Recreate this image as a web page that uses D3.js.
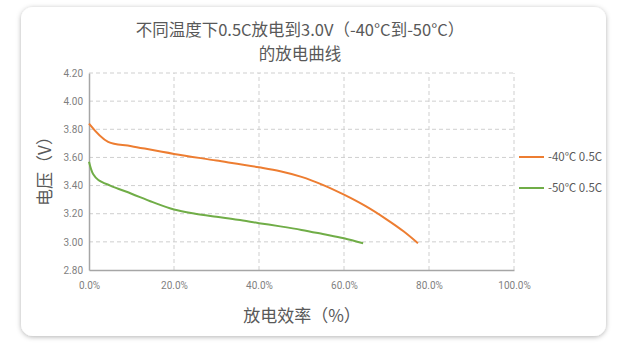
<!DOCTYPE html>
<html>
<head>
<meta charset="utf-8">
<script src="https://cdn.jsdelivr.net/npm/d3@7"></script>
<style>
  body { margin: 0; background: #fff; }
  svg { display: block; font-family: "Noto Sans CJK SC", "Noto Sans", sans-serif; }
</style>
</head>
<body>
<div id="chart"></div>
<script>
// discharge capacity (%) and voltage (V)
var capMinus40 = [0, 4.5, 10, 20, 30, 40, 45, 50, 55, 60, 65, 70, 74, 77.4]
var voltMinus40 = [3.84, 3.71, 3.68, 3.625, 3.578, 3.53, 3.502, 3.462, 3.405, 3.335, 3.255, 3.16, 3.075, 2.99]
var capMinus50 = [0, 1, 2.2, 5, 10, 15, 20, 25, 30, 35, 40, 45, 50, 55, 60, 64.5]
var voltMinus50 = [3.57, 3.48, 3.44, 3.40, 3.342, 3.282, 3.23, 3.2, 3.178, 3.157, 3.133, 3.11, 3.085, 3.056, 3.026, 2.99]

var xTicks = [0, 20, 40, 60, 80, 100]
var yTicks = [2.8, 3.0, 3.2, 3.4, 3.6, 3.8, 4.0, 4.2]
var seriesNames = ['-40℃ 0.5C', '-50℃ 0.5C']
var seriesColors = ['#ED7D31', '#70AD47']

var width = 622, height = 352
var margin = {top: 73, right: 108, bottom: 82, left: 89}

var svg = d3.select('#chart')
  .append('svg')
  .attr('width', width)
  .attr('height', height)

// card with shadow
var defs = svg.append('defs')
var f = defs.append('filter').attr('id', 'shadow')
  .attr('x', '-10%').attr('y', '-10%').attr('width', '120%').attr('height', '120%')
f.append('feDropShadow')
  .attr('dx', 0).attr('dy', 1).attr('stdDeviation', 2.5)
  .attr('flood-color', '#000').attr('flood-opacity', 0.3)

svg.append('rect')
  .attr('x', 21).attr('y', 7)
  .attr('width', 585).attr('height', 329)
  .attr('rx', 12)
  .attr('fill', '#fff')
  .attr('filter', 'url(#shadow)')

var x = d3.scaleLinear()
  .domain([0, 100])
  .range([margin.left, 514])
var y = d3.scaleLinear()
  .domain([2.8, 4.2])
  .range([height - margin.bottom, margin.top])

// grid
svg.append('g')
  .selectAll('line')
  .data(yTicks.slice(1))
  .enter().append('line')
  .attr('x1', x(0)).attr('x2', x(100))
  .attr('y1', function(d) { return y(d) })
  .attr('y2', function(d) { return y(d) })
  .attr('stroke', '#cfcfcf')
  .attr('stroke-dasharray', '4,3')
svg.append('g')
  .selectAll('line')
  .data(xTicks.slice(1))
  .enter().append('line')
  .attr('y1', y(2.8)).attr('y2', y(4.2))
  .attr('x1', function(d) { return x(d) })
  .attr('x2', function(d) { return x(d) })
  .attr('stroke', '#cfcfcf')
  .attr('stroke-dasharray', '4,3')

// axes
var xAxis = svg.append('g')
  .attr('transform', 'translate(0,' + y(2.8) + ')')
  .call(d3.axisBottom(x).tickValues(xTicks).tickSize(0).tickPadding(12)
    .tickFormat(function(d) { return d.toFixed(1) + '%' }))
var yAxis = svg.append('g')
  .attr('transform', 'translate(' + x(0) + ',0)')
  .call(d3.axisLeft(y).tickValues(yTicks).tickSize(0).tickPadding(6)
    .tickFormat(d3.format('.2f')))

;[xAxis, yAxis].forEach(function(a) {
  a.select('.domain').attr('stroke', '#a6a6a6').attr('stroke-width', 1.5)
  a.selectAll('text')
    .style('font-size', '10px')
    .attr('fill', '#7f7f7f')
    .style('font-family', 'Roboto, "Noto Sans", sans-serif')
})

// lines
var line = d3.line()
  .x(function(d) { return x(d[0]) })
  .y(function(d) { return y(d[1]) })
  .curve(d3.curveCatmullRom.alpha(0.5))

var series = [
  d3.zip(capMinus40, voltMinus40),
  d3.zip(capMinus50, voltMinus50)
]

series.forEach(function(s, i) {
  svg.append('path')
    .datum(s)
    .attr('fill', 'none')
    .attr('stroke', seriesColors[i])
    .attr('stroke-width', 2)
    .attr('d', line)
})

// legend
var legend = svg.append('g')
  .selectAll('g')
  .data(seriesNames)
  .enter().append('g')
  .attr('transform', function(d, i) { return 'translate(519,' + (157 + i * 31) + ')' })
legend.append('line')
  .attr('x1', 0).attr('x2', 25)
  .attr('stroke', function(d, i) { return seriesColors[i] })
  .attr('stroke-width', 2)
legend.append('text')
  .attr('x', 29).attr('dy', '0.35em')
  .style('font-size', '11.5px')
  .attr('fill', '#595959')
  .text(function(d) { return d })

// titles
svg.append('text')
  .attr('x', 300).attr('y', 36)
  .attr('text-anchor', 'middle')
  .attr('fill', '#595959')
  .style('font-size', '16.5px')
  .text('不同温度下0.5C放电到3.0V（-40°C到-50°C）')
svg.append('text')
  .attr('x', 300).attr('y', 60)
  .attr('text-anchor', 'middle')
  .attr('fill', '#595959')
  .style('font-size', '16.5px')
  .text('的放电曲线')

svg.append('text')
  .attr('x', 302).attr('y', 322)
  .attr('text-anchor', 'middle')
  .attr('fill', '#595959')
  .style('font-size', '17px')
  .text('放电效率（%）')

svg.append('text')
  .attr('transform', 'translate(51,' + 167 + ') rotate(-90)')
  .attr('text-anchor', 'middle')
  .attr('fill', '#595959')
  .style('font-size', '17px')
  .text('电压（V）')
</script>
</body>
</html>
